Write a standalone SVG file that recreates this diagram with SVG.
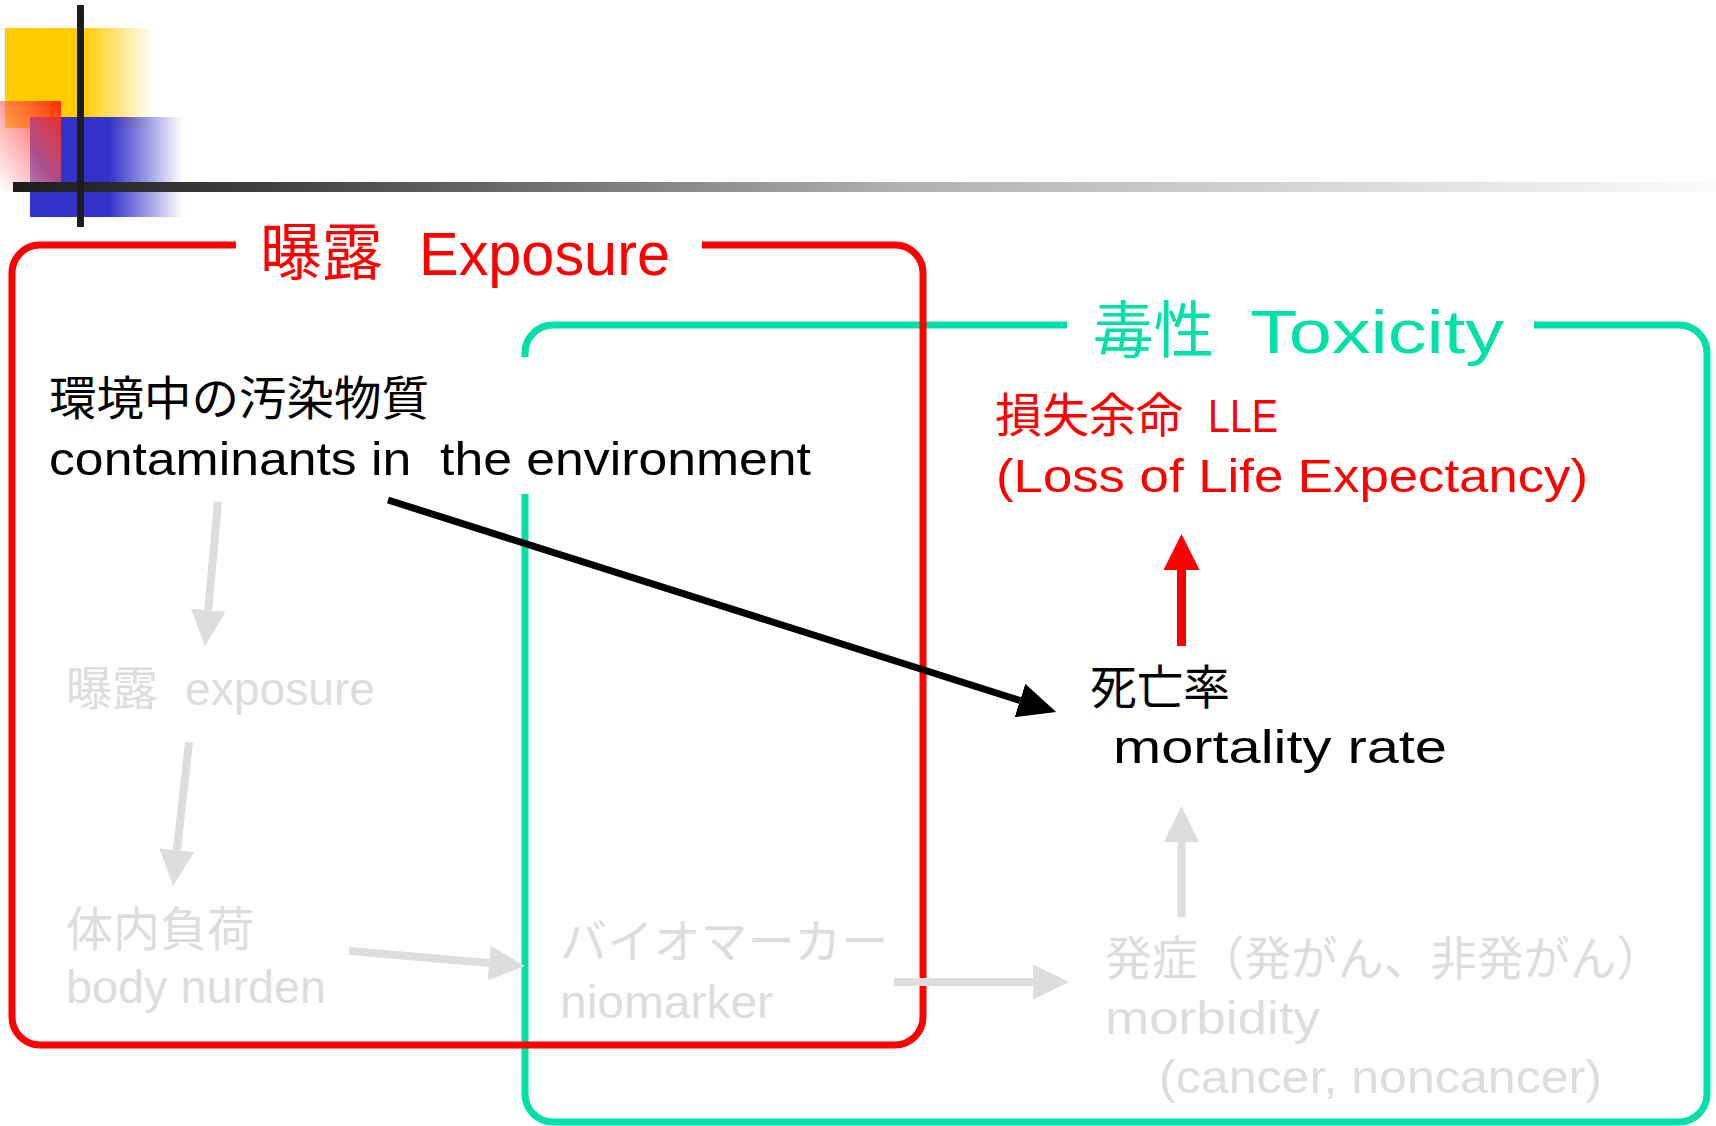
<svg xmlns="http://www.w3.org/2000/svg" width="1716" height="1126" viewBox="0 0 1716 1126">
<style>
text{font-family:"Noto Sans CJK JP","Liberation Sans",sans-serif;}
.lat{font-family:"Liberation Sans","Noto Sans CJK JP",sans-serif;}
.t62{font-size:62px;}
.t47{font-size:47px;}
.red{fill:#FF0000;}
.grn{fill:#00E0A8;}
.blk{fill:#000000;}
.gry{fill:#DDDDDD;}
.box{fill:none;stroke-width:7;stroke-linejoin:round;}
.c-blk{stroke:#000000;stroke-width:7;fill:none;}
.c-red{stroke:#FF0000;stroke-width:9;fill:none;}
.c-gry{stroke:#DDDDDD;stroke-width:8;fill:none;}
</style>
<defs>
<linearGradient id="gYel" x1="0" y1="0" x2="1" y2="0">
<stop offset="0" stop-color="#FFCC00"/>
<stop offset="0.53" stop-color="#FFCC00"/>
<stop offset="1" stop-color="#FFCC00" stop-opacity="0"/>
</linearGradient>
<linearGradient id="gBlu" x1="0" y1="0" x2="1" y2="0">
<stop offset="0" stop-color="#3333CC"/>
<stop offset="0.52" stop-color="#3333CC"/>
<stop offset="1" stop-color="#3333CC" stop-opacity="0"/>
</linearGradient>
<linearGradient id="gPnk" x1="1" y1="0" x2="0" y2="1">
<stop offset="0" stop-color="#FF2200" stop-opacity="0.95"/>
<stop offset="0.5" stop-color="#FF6060" stop-opacity="0.6"/>
<stop offset="1" stop-color="#FFFFFF" stop-opacity="0.6"/>
</linearGradient>
<linearGradient id="gBar" x1="0" y1="0" x2="1" y2="0">
<stop offset="0" stop-color="#1C1C1C"/>
<stop offset="0.17" stop-color="#454545"/>
<stop offset="0.52" stop-color="#B0B0B0"/>
<stop offset="1" stop-color="#FBFBFB"/>
</linearGradient>
<marker id="mBlk" markerUnits="userSpaceOnUse" markerWidth="38" markerHeight="35" refX="0" refY="17.5" orient="auto"><path d="M0,0 L38,17.5 L0,35 Z" fill="#000000"/></marker>
<marker id="mRed" markerUnits="userSpaceOnUse" markerWidth="36" markerHeight="36" refX="0" refY="18" orient="auto"><path d="M0,0 L36,18 L0,36 Z" fill="#FF0000"/></marker>
<marker id="mGry" markerUnits="userSpaceOnUse" markerWidth="36" markerHeight="35" refX="0" refY="17.5" orient="auto"><path d="M0,0 L36,17.5 L0,35 Z" fill="#DDDDDD"/></marker>
</defs>
<rect width="1716" height="1126" fill="#FFFFFF"/>

<g id="decoration">
<rect x="5" y="28" width="148" height="100" fill="url(#gYel)"/>
<rect x="30" y="117" width="153" height="100" fill="url(#gBlu)"/>
<rect x="0" y="101" width="61" height="90" fill="url(#gPnk)"/>
<rect x="13" y="182" width="1703" height="10" fill="url(#gBar)"/>
<rect x="77" y="5" width="7" height="222" fill="#1C1C1C"/>
</g>

<g id="toxicity-box">
<path class="box" stroke="#00E0A8" d="M525,357 L525,353 A28,28 0 0 1 553,325 L1067,325 M1534,325 L1679,325 A28,28 0 0 1 1707,353 L1707,1094 A28,28 0 0 1 1679,1122 L553,1122 A28,28 0 0 1 525,1094 L525,494"/>
<text class="t62 grn"><tspan x="1093" y="353" textLength="121" lengthAdjust="spacingAndGlyphs">毒性</tspan><tspan class="lat" x="1250" y="353" textLength="254" lengthAdjust="spacingAndGlyphs">Toxicity</tspan></text>
</g>

<g id="exposure-box">
<path class="box" stroke="#FF0000" d="M236,245 L40,245 A28,28 0 0 0 12,273 L12,1017 A28,28 0 0 0 40,1045 L895,1045 A28,28 0 0 0 923,1017 L923,273 A28,28 0 0 0 895,245 L702,245"/>
<text class="t62 red"><tspan x="260" y="275" textLength="123" lengthAdjust="spacingAndGlyphs">曝露</tspan><tspan class="lat" x="419" y="275" textLength="251" lengthAdjust="spacingAndGlyphs">Exposure</tspan></text>
</g>

<g id="node-contaminants">
<text class="t47 blk" xml:space="preserve"><tspan x="49" y="415" textLength="380" lengthAdjust="spacingAndGlyphs">環境中の汚染物質</tspan><tspan class="lat" x="49" y="475" textLength="762" lengthAdjust="spacingAndGlyphs">contaminants in  the environment</tspan></text>
</g>

<g id="node-exposure">
<text class="t47 gry"><tspan x="66" y="705" textLength="92" lengthAdjust="spacingAndGlyphs">曝露</tspan><tspan class="lat" x="185" y="705" textLength="190" lengthAdjust="spacingAndGlyphs">exposure</tspan></text>
</g>

<g id="node-body-burden">
<text class="t47 gry"><tspan x="66" y="946" textLength="188" lengthAdjust="spacingAndGlyphs">体内負荷</tspan><tspan class="lat" x="66" y="1003" textLength="260" lengthAdjust="spacingAndGlyphs">body nurden</tspan></text>
</g>

<g id="node-biomarker">
<text class="t47 gry"><tspan x="560" y="958" textLength="328" lengthAdjust="spacingAndGlyphs">バイオマーカー</tspan><tspan class="lat" x="560" y="1018" textLength="213" lengthAdjust="spacingAndGlyphs">niomarker</tspan></text>
</g>

<g id="node-morbidity">
<text class="t47 gry"><tspan x="1105" y="975" textLength="558" lengthAdjust="spacingAndGlyphs">発症（発がん、非発がん）</tspan><tspan class="lat" x="1105" y="1034" textLength="215" lengthAdjust="spacingAndGlyphs">morbidity</tspan><tspan class="lat" x="1159" y="1093" textLength="443" lengthAdjust="spacingAndGlyphs">(cancer, noncancer)</tspan></text>
</g>

<g id="node-mortality">
<text class="t47 blk"><tspan x="1090" y="704" textLength="140" lengthAdjust="spacingAndGlyphs">死亡率</tspan><tspan class="lat" x="1113" y="763" textLength="334" lengthAdjust="spacingAndGlyphs">mortality rate</tspan></text>
</g>

<g id="node-lle">
<text class="t47 red"><tspan x="995" y="432" textLength="188" lengthAdjust="spacingAndGlyphs">損失余命</tspan><tspan class="lat" x="1208" y="432" textLength="70" lengthAdjust="spacingAndGlyphs">LLE</tspan><tspan class="lat" x="996" y="492" textLength="592" lengthAdjust="spacingAndGlyphs">(Loss of Life Expectancy)</tspan></text>
</g>

<g id="connectors">
<line class="c-gry" x1="218" y1="502" x2="208.2" y2="610.1" marker-end="url(#mGry)"/>
<line class="c-gry" x1="189" y1="742" x2="176.9" y2="850.2" marker-end="url(#mGry)"/>
<line class="c-gry" x1="349" y1="951" x2="489.1" y2="963" marker-end="url(#mGry)"/>
<line class="c-gry" x1="894" y1="982" x2="1033" y2="982" marker-end="url(#mGry)"/>
<line class="c-gry" x1="1181.5" y1="917" x2="1181.5" y2="842" marker-end="url(#mGry)"/>
<line class="c-red" x1="1181.5" y1="646" x2="1181.5" y2="570" marker-end="url(#mRed)"/>
<line class="c-blk" x1="388" y1="500" x2="1020" y2="700.5" marker-end="url(#mBlk)"/>
</g>
</svg>
